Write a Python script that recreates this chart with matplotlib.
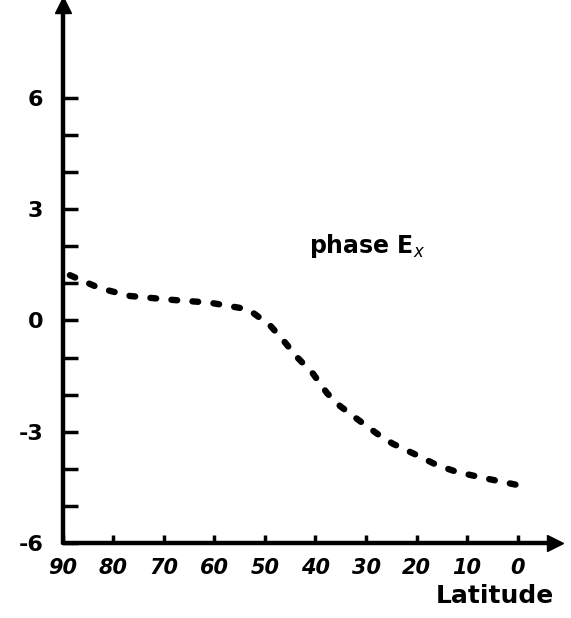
import matplotlib
matplotlib.use("Agg")
import matplotlib.pyplot as plt

# values
latitude = [88.6, 82.7, 76.7, 68.8, 60.9, 55.0, 53.0, 49.0, 46.4, 43.7, 40.5,
            37.7, 35.1, 31.2, 27.8, 24.7, 19.9, 15.9, 12.0, 6.8, 0.1]
phase_ex = [1.22, 0.87, 0.66, 0.56, 0.48, 0.34, 0.27, -0.13, -0.53, -0.98, -1.43,
            -1.96, -2.31, -2.71, -3.05, -3.32, -3.63, -3.90, -4.08, -4.24, -4.43]

x_ticks = [90, 80, 70, 60, 50, 40, 30, 20, 10, 0]
x_labels = ["90", "80", "70", "60", "50", "40", "30", "20", "10", "0"]
y_major = [-6, -3, 0, 3, 6]
y_minor = [-5, -4, -2, -1, 1, 2, 4, 5]

fig = plt.figure(figsize=(5.71, 6.18), dpi=100)
ax = fig.add_axes([0.110, 0.121, 0.862, 0.871])

ax.plot(latitude, phase_ex, color="black", lw=4.6,
        linestyle=(0, (0.9, 2.4)), dash_capstyle="round", solid_capstyle="round")

ax.set_xlim(90, -7.4)
ax.set_ylim(-6, 8.5)

for s in ["top", "right"]:
    ax.spines[s].set_visible(False)
for s in ["left", "bottom"]:
    ax.spines[s].set_linewidth(3.2)
    ax.spines[s].set_capstyle("round")

# arrow heads on axes
ax.plot(1, 0, ">", color="black", ms=11, transform=ax.transAxes, clip_on=False)
ax.plot(0, 1, "^", color="black", ms=11, transform=ax.transAxes, clip_on=False)

ax.set_xticks(x_ticks)
ax.set_xticklabels(x_labels, fontsize=15, fontweight="bold", style="italic")
ax.set_yticks(y_major)
ax.set_yticklabels([str(v) for v in y_major], fontsize=16, fontweight="bold")
ax.set_yticks(y_minor, minor=True)

ax.tick_params(axis="x", direction="in", length=6, width=2.5, pad=11)
ax.tick_params(axis="y", which="both", direction="in", length=11, width=2.5, pad=14)

ax.text(29.8, 2.0, "phase E$_x$", fontsize=17, fontweight="bold",
        ha="center", va="center")
fig.text(0.97, 0.035, "Latitude", fontsize=18, fontweight="bold",
         ha="right", va="center")

fig.savefig("out.png", dpi=100)
